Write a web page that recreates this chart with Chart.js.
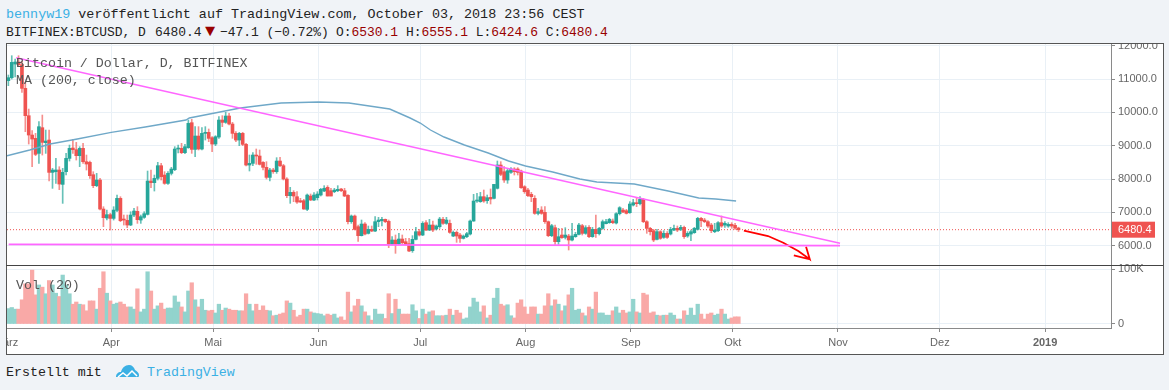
<!DOCTYPE html>
<html>
<head>
<meta charset="utf-8">
<title>BTCUSD</title>
<script src="https://cdn.jsdelivr.net/npm/chart.js@4/dist/chart.umd.min.js"></script>
<style>
  html, body { margin: 0; padding: 0; background: #f0f3f7; width: 1169px; height: 390px; overflow: hidden; }
  .txt { position: absolute; font: 13.3px "Liberation Mono", monospace; color: #222; white-space: pre; line-height: 16px; }
  .row2 { font-size: 12.95px; }
  .blue { color: #3bb0e4; }
  .dred { color: #990000; }
  .leg { color: #555; z-index: 3; }
  #frame { position: absolute; left: 6px; top: 43px; width: 1156px; height: 310px; border: 1px solid #555; background: #fff; box-sizing: content-box; }
  #sep { position: absolute; left: 6px; top: 265px; width: 1157px; height: 1px; background: #444; z-index: 4; }
  #wrap { position: absolute; left: 7px; top: 44px; width: 1155px; height: 309px; overflow: hidden; }
</style>
</head>
<body>
<div class="txt" style="left:6px;top:7px;font-size:13.4px"><span class="blue">bennyw19</span> veröffentlicht auf TradingView.com, October 03, 2018 23:56 CEST</div>
<div class="txt row2" style="left:6px;top:25px">BITFINEX:BTCUSD, D</div>
<div class="txt row2" style="left:155px;top:25px">6480.4</div>
<div class="txt dred" style="left:205px;top:24px;font-size:17px">▼</div>
<div class="txt row2" style="left:220px;top:25px">−47.1 (−0.72%)</div>
<div class="txt row2" style="left:336px;top:25px">O:<span class="dred">6530.1</span> H:<span class="dred">6555.1</span> L:<span class="dred">6424.6</span> C:<span class="dred">6480.4</span></div>

<div id="frame"></div>
<div id="wrap"><canvas id="btc" width="1155" height="309"></canvas></div>
<div id="sep"></div>

<div class="txt leg" style="left:16px;top:56px">Bitcoin / Dollar, D, BITFINEX</div>
<div class="txt leg" style="left:16px;top:73px">MA (200, close)</div>
<div class="txt leg" style="left:16px;top:278px">Vol (20)</div>

<div class="txt" style="left:6px;top:365px">Erstellt mit</div>
<svg style="position:absolute;left:115px;top:363px" width="25" height="16" viewBox="0 0 25 16">
  <path d="M1 14c0-3 2-5 5-5 1-4 4-7 8-7 3 0 5 2 6 5 2 1 4 3 4 5 0 1 0 2-1 2z" fill="#3bb0e4"/>
  <path d="M3 14l5-4 4 3 5-5 5 5" fill="none" stroke="#fff" stroke-width="1.5"/>
</svg>
<div class="txt blue" style="left:147px;top:365px">TradingView</div>

<script>
// jours depuis le 1er avril 2018, premiere bougie = 2 mars
const firstDay = -30;
const opens = [
  10950,11040,11450,11510,11430,10720,9900,9320,9220,8770,9540,9090,9170,8200,8220,8270,7840,8220,8620,8930,
  8880,8700,8920,8520,8500,8130,7800,7970,7100,6830,
  6930,6820,7060,7420,6790,6760,6620,6920,7030,6770,6850,6940,7940,7890,8021,8400,8120,7870,8170,8280,
  8900,8920,8790,8940,9690,8890,9290,8900,9370,9400,9240,9050,9260,9770,9700,9890,9650,9370,9170,9370,
  9040,8420,8470,8720,8690,8500,8350,8050,8270,8220,8540,8400,8000,7500,7600,7470,7350,7350,7090,7490,
  7370,7440,7520,7640,7750,7650,7620,7650,7700,7650,7510,6720,6890,6570,6300,6650,6370,6490,6440,6720,
  6750,6790,6730,6050,6170,6060,6200,6120,6060,5850,6190,6420,6320,6690,6470,6620,6500,6570,6790,6670,
  6670,6290,6400,6320,6220,6270,6350,6740,7340,7320,7470,7350,7450,7420,7721,8420,8220,7970,8200,8300,
  8300,8240,7770,7670,7540,7420,6970,7070,7000,6720,6300,6540,6120,6320,6250,6290,6170,6270,6340,6600,
  6370,6550,6270,6490,6360,6520,6660,6690,6740,6680,6960,7070,7050,6990,7220,7290,7260,7390,6720,6520,
  6450,6190,6420,6250,6370,6350,6470,6520,6490,6550,6290,6350,6390,6490,6820,6770,6720,6620,6420,6450,
  6690,6620,6590,6640,6610,6530.1
];
const highs = [
  11120,11700,11600,11700,11530,10900,10100,9450,9370,9720,9920,9470,9470,8320,8620,8370,8320,8770,9020,9190,
  9100,8970,9070,8720,8540,8220,8170,8020,7170,7070,
  6970,7170,7520,7470,6920,6920,7020,7120,7170,6920,7020,8240,8270,8120,8501,8471,8221,8221,8351,8971,
  9020,9071,9041,9771,9791,9571,9571,9541,9571,9501,9271,9301,9871,9901,10001,9971,9701,9421,9401,9401,
  9071,8721,8791,8901,8871,8521,8521,8321,8321,8641,8651,8441,8041,7751,7651,7621,7421,7391,7551,7551,
  7591,7621,7721,7801,7801,7721,7721,7801,7721,7721,7531,6921,6921,6621,6771,6691,6591,6591,6871,6851,
  6851,6801,6771,6271,6321,6371,6321,6221,6221,6301,6551,6491,6721,6751,6791,6741,6621,6851,6851,6851,
  6771,6441,6441,6371,6321,6401,6771,7541,7571,7601,7671,7521,7701,7821,8541,8521,8371,8301,8341,8341,
  8341,8271,7801,7721,7601,7501,7121,7171,7171,6741,6641,6621,6521,6521,6541,6341,6671,6401,6671,6641,
  6601,6601,6551,6921,6551,6771,6791,6821,6801,6991,7171,7121,7091,7321,7391,7421,7471,7421,6751,6551,
  6491,6491,6451,6451,6421,6551,6621,6591,6611,6591,6421,6471,6551,6851,6851,6821,6751,6671,6671,6721,
  6891,6721,6691,6691,6671,6555.1
];
const lows = [
  10800,11000,11060,11380,10600,9420,9050,8370,8700,8470,8720,8770,7940,7720,7870,7680,7270,8120,8540,8770,
  8570,8370,8470,8270,8020,7740,7770,7070,6570,6770,
  6470,6770,7020,6720,6620,6540,6600,6870,6670,6670,6820,6920,7740,7640,7971,7971,7841,7841,8121,8251,
  8780,8761,8761,8921,8771,8671,8871,8871,9171,9121,8821,9001,9221,9571,9671,9621,9221,9121,9001,9001,
  8391,8241,8401,8441,8421,8271,8001,7941,8171,8171,8371,7971,7441,7271,7321,7271,7291,7091,7051,7351,
  7351,7371,7491,7621,7491,7491,7591,7621,7621,7471,6651,6671,6471,6131,6291,6321,6351,6421,6421,6571,
  6591,6691,5941,6021,5771,6031,6051,6021,5821,5801,6171,6291,6301,6451,6451,6421,6471,6521,6641,6641,
  6371,6271,6101,6101,6201,6241,6321,6731,7301,7301,7301,7271,7251,7401,7701,8101,7901,7871,8171,8121,
  8121,7721,7571,7471,7321,6941,6921,6941,6671,6271,6271,6041,6041,6221,6201,5871,6141,6251,6321,6321,
  6341,6241,6251,6251,6321,6491,6651,6671,6661,6651,6921,6991,6951,6971,7191,7171,7221,6691,6371,6321,
  6121,6171,6191,6221,6221,6321,6451,6421,6451,6221,6251,6151,6371,6471,6571,6691,6551,6391,6391,6421,
  6551,6551,6551,6521,6491,6424.6
];
const closes = [
  11040,11500,11510,11430,10720,9900,9320,9200,8740,9570,9100,9140,8200,8270,8270,7850,8200,8620,8920,8880,
  8700,8920,8520,8450,8100,7800,7970,7100,6840,6930,
  6820,7070,7420,6750,6770,6620,6920,7040,6780,6870,6960,7940,7890,8020,8400,8070,7870,8170,8300,8900,
  8920,8790,8970,9670,8890,9290,8900,9370,9400,9220,9050,9270,9770,9700,9890,9650,9370,9170,9370,9040,
  8420,8470,8720,8690,8440,8350,8050,8270,8220,8540,8400,8000,7500,7600,7490,7310,7310,7100,7520,7370,
  7520,7550,7690,7720,7490,7490,7670,7690,7650,7490,6720,6890,6490,6300,6650,6350,6490,6440,6720,6770,
  6790,6720,6050,6170,6050,6200,6090,6050,5840,6190,6420,6320,6670,6470,6620,6470,6590,6800,6670,6770,
  6400,6400,6290,6220,6290,6360,6740,7340,7370,7470,7340,7440,7400,7840,8421,8140,7970,8250,8300,8220,
  8200,7740,7620,7500,7470,6970,7020,6970,6720,6300,6600,6120,6270,6240,6320,6170,6290,6340,6620,6370,
  6540,6270,6490,6360,6520,6720,6720,6790,6690,6960,7140,7010,6970,7250,7290,7260,7390,6720,6520,6420,
  6170,6420,6220,6370,6250,6490,6520,6470,6550,6270,6370,6420,6520,6820,6750,6720,6590,6450,6470,6690,
  6590,6670,6640,6590,6527,6480.4
];
// volume en milliers
const volumes = [
  28,30,27,27,44,73,73,98,53,71,67,55,79,71,56,50,89,71,55,36,40,36,35,24,42,42,27,65,95,56,
  42,36,38,40,36,31,31,27,64,22,27,95,60,27,33,38,27,29,29,51,40,31,22,60,75,44,31,45,25,24,
  25,20,36,25,29,27,25,25,24,24,55,36,24,36,25,33,25,24,15,16,18,20,42,38,25,13,16,27,27,22,
  20,19,18,15,18,16,18,11,13,7,58,22,33,45,33,22,15,7,27,18,18,10,55,19,45,27,18,18,18,35,
  24,10,27,18,22,24,15,15,15,16,27,16,25,20,9,11,31,47,40,22,33,11,16,47,65,36,33,35,15,11,
  38,44,31,18,31,31,18,18,33,55,33,44,36,24,33,53,65,25,27,20,15,31,27,58,20,20,16,16,24,31,
  20,25,20,22,45,22,20,56,53,20,22,16,15,16,16,20,16,9,9,24,16,29,16,36,18,9,18,20,16,18,
  27,18,9,11,13,13
];
const maDays =   [-30.7,-24,-18,-10,0,10,22,23,38,50,61,70,82,88,91,94,98,104,111,117,122,130,138,143,154,164,173,178,184];
const maValues = [8700,8871,9051,9201,9400,9561,9771,9831,10131,10281,10311,10281,10101,9831,9681,9471,9261,9021,8781,8541,8391,8211,8001,7911,7851,7641,7431,7401,7341];

const trendDays = [-28, 214.6];
const trendValues = [11640, 6072];
const floorDays = [-30.2, 214.6];
const floorValues = [6042, 6000];
const arrowDays =   [186.3,193.4,197.9,202.3,205.7,204.6,205.7,201];
const arrowValues = [6450,6291,6090,5841,5592,5970,5592,5712];

const monthDays = [-31,0,30,61,91,122,153,183,214,244,275];
const monthLabels = ['März','Apr','Mai','Jun','Jul','Aug','Sep','Okt','Nov','Dez','2019'];
const priceTicks = [6000,7000,8000,9000,10000,11000,12000];
const volTicks = [0,100];
const lastClose = 6480.4;

const UP = '#26a69a', DOWN = '#ef5350';
const shift = 0.3; // les bougies sont un peu a gauche du trait du mois
const xMin = -30.7, xMax = 294.4;

const isUp = i => closes[i] >= opens[i];
const xOf = i => firstDay + i - shift;
const toXY = (xs, ys) => xs.map((x, i) => ({ x: x, y: ys[i] }));

const lineDs = (data, color, width, extra) => Object.assign({
  type: 'line', data: data, yAxisID: 'y', borderColor: color, borderWidth: width,
  pointRadius: 0, tension: 0, order: 0, fill: false
}, extra || {});

const badge = {
  id: 'badge',
  afterDraw(chart) {
    const c = chart.ctx, s = chart.scales.y, py = s.getPixelForValue(lastClose);
    c.save();
    c.fillStyle = DOWN;
    c.fillRect(s.left + 1, py - 8, 43, 16);
    c.fillStyle = '#fff';
    c.font = '11px "Liberation Sans"';
    c.textBaseline = 'middle';
    c.fillText(lastClose.toFixed(1), s.left + 7, py + 0.5);
    c.restore();
  }
};

const noPad = s => { s.width = 51; s.paddingTop = 0; s.paddingBottom = 0; };

new Chart(document.getElementById('btc').getContext('2d'), {
  type: 'bar',
  plugins: [badge],
  data: {
    datasets: [
      { data: volumes.map((v, i) => ({ x: xOf(i), y: v })), yAxisID: 'vol', grouped: false, order: 5, barThickness: 3.6,
        backgroundColor: volumes.map((v, i) => isUp(i) ? '#92d3cd' : '#f9a9a7') },
      { data: highs.map((h, i) => ({ x: xOf(i), y: [lows[i], h] })), yAxisID: 'y', grouped: false, order: 4, barThickness: 1,
        backgroundColor: highs.map((h, i) => isUp(i) ? 'rgba(38,166,154,.7)' : 'rgba(239,83,80,.65)') },
      { data: opens.map((o, i) => ({ x: xOf(i), y: [o, closes[i]] })), yAxisID: 'y', grouped: false, order: 3, barThickness: 3, minBarLength: 1,
        backgroundColor: opens.map((o, i) => isUp(i) ? UP : DOWN) },
      lineDs(toXY([xMin, xMax], [lastClose, lastClose]), DOWN, 1, { borderDash: [1, 2], order: 6 }),
      lineDs(toXY(maDays, maValues), '#6fa8c8', 1.4, { order: 2 }),
      lineDs(toXY(trendDays, trendValues), '#ff66ff', 1.4),
      lineDs(toXY(floorDays, floorValues), '#ff66ff', 1.8),
      lineDs(toXY(arrowDays, arrowValues), '#ff0000', 1.8)
    ]
  },
  options: {
    responsive: false,
    animation: false,
    layout: { padding: 0 },
    plugins: { legend: { display: false }, tooltip: { enabled: false } },
    scales: {
      x: {
        type: 'linear', min: xMin, max: xMax, offset: false,
        grid: { color: '#e9f0f6', offset: false, tickLength: 4, tickColor: '#8a8a8a' },
        border: { color: '#8a8a8a' },
        afterBuildTicks: s => { s.ticks = monthDays.map(v => ({ value: v })); },
        afterFit: s => { s.height = 25; s.paddingLeft = 0; s.paddingRight = 0; },
        ticks: {
          autoSkip: false, maxRotation: 0, padding: 4, color: '#666',
          font: c => ({ family: 'Liberation Sans', size: 11, weight: c.index === 10 ? 'bold' : 'normal' }),
          callback: (v, i) => monthLabels[i]
        }
      },
      y: {
        position: 'right', stack: 'panes', stackWeight: 221, min: 5421, max: 12051,
        grid: { color: '#e9f0f6', tickLength: 4, tickColor: '#8a8a8a' },
        border: { color: '#8a8a8a' },
        afterBuildTicks: s => { s.ticks = priceTicks.map(v => ({ value: v })); },
        afterFit: noPad,
        ticks: { padding: 3, crossAlign: 'near', color: '#666', font: { family: 'Liberation Sans', size: 11 }, callback: v => v.toFixed(1) }
      },
      vol: {
        position: 'right', stack: 'panes', stackWeight: 63, min: -7.3, max: 107.3,
        grid: { color: '#e9f0f6', tickLength: 4, tickColor: '#8a8a8a' },
        border: { color: '#8a8a8a' },
        afterBuildTicks: s => { s.ticks = volTicks.map(v => ({ value: v })); },
        afterFit: noPad,
        ticks: { padding: 3, crossAlign: 'near', color: '#666', font: { family: 'Liberation Sans', size: 11 }, callback: v => v ? v + 'K' : '0' }
      }
    }
  }
});
</script>
</body>
</html>
